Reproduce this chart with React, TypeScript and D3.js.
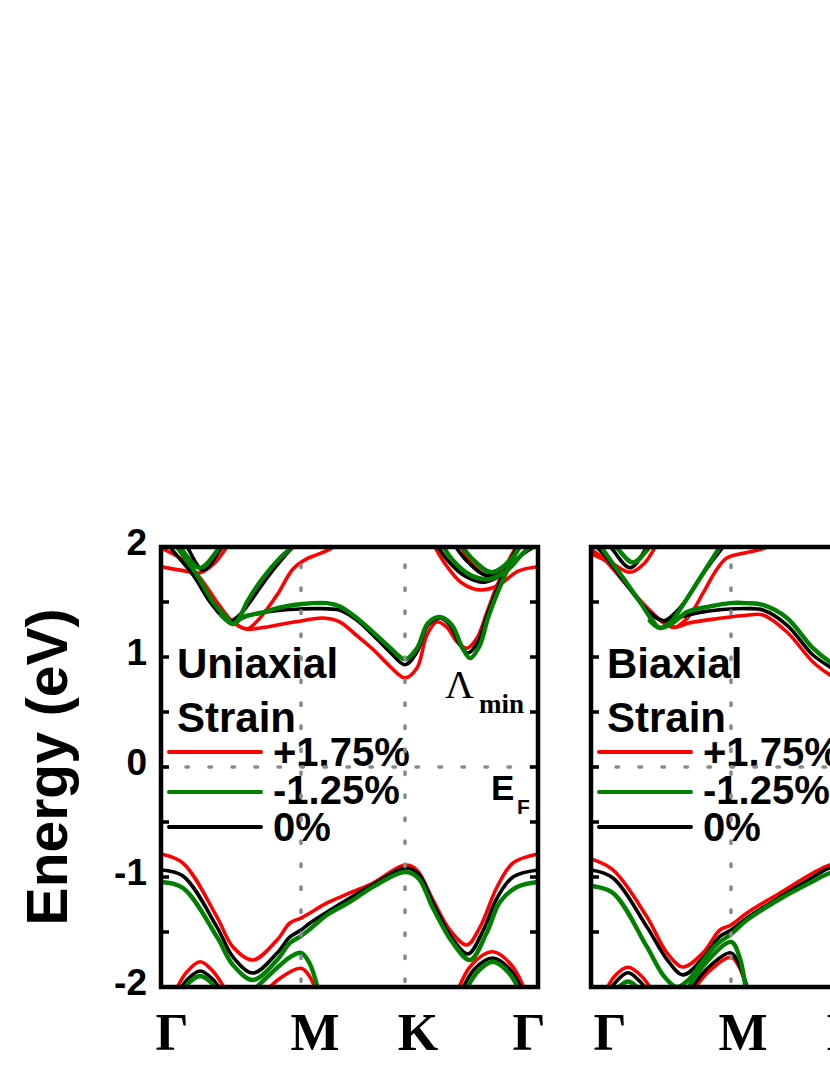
import React from "react";
import * as d3 from "d3";

type Pt = [number, number];

// ---------- axis data ----------
const kPoints = [0, 1, 2, 3]; // Γ, M, K, Γ (path segments)
const kLabels = ["Γ", "M", "K", "Γ"];
const yTicksMajor = [-2, -1, 0, 1, 2];
const yTicksMinor = [-2, -1.5, -1, -0.5, 0, 0.5, 1, 1.5, 2];
const legendLabels = ["+1.75%", "-1.25%", "0%"];
const legendColors = ["#ff0000", "#008000", "#000000"];

// ---------- Uniaxial strain panel ----------
const uniRedVB1: Pt[] = [[0,-0.79],[0.157,-0.873],[0.4,-1.364],[0.514,-1.636],[0.657,-1.755],[0.829,-1.573],[0.921,-1.418],[1.0,-1.373],[1.087,-1.327],[1.25,-1.236],[1.471,-1.145],[1.692,-1.055],[2.0,-0.891],[2.09,-0.936],[2.21,-1.209],[2.338,-1.482],[2.466,-1.618],[2.564,-1.455],[2.692,-1.091],[2.812,-0.873],[3.0,-0.791]];
const uniBlackVB1: Pt[] = [[0,-0.936],[0.157,-0.991],[0.4,-1.455],[0.514,-1.727],[0.657,-1.873],[0.829,-1.691],[0.921,-1.545],[1.0,-1.482],[1.087,-1.418],[1.25,-1.318],[1.471,-1.191],[1.692,-1.07],[2.0,-0.918],[2.1,-0.97],[2.21,-1.236],[2.35,-1.55],[2.474,-1.70],[2.586,-1.49],[2.692,-1.191],[2.812,-1.0],[3.0,-0.936]];
const uniGreenVB1: Pt[] = [[0,-1.045],[0.157,-1.1],[0.4,-1.545],[0.514,-1.8],[0.657,-1.936],[0.829,-1.755],[0.921,-1.6],[1.0,-1.536],[1.087,-1.473],[1.25,-1.345],[1.471,-1.227],[1.692,-1.09],[2.0,-0.955],[2.1,-1.01],[2.21,-1.282],[2.36,-1.6],[2.489,-1.755],[2.617,-1.5],[2.714,-1.227],[2.842,-1.091],[3.0,-1.045]];
const uniRedVB2a: Pt[] = [[0.08,-2.1],[0.18,-1.87],[0.28,-1.77],[0.38,-1.87],[0.49,-2.1]];
const uniBlackVB2a: Pt[] = [[0.1,-2.1],[0.19,-1.93],[0.28,-1.855],[0.37,-1.93],[0.46,-2.1]];
const uniGreenVB2a: Pt[] = [[0.12,-2.1],[0.2,-1.96],[0.28,-1.9],[0.36,-1.96],[0.44,-2.1]];
const uniRedVB2b: Pt[] = [[0.72,-2.08],[0.85,-1.92],[1.0,-1.83],[1.08,-1.9],[1.16,-2.08]];
const uniGreenVB2b: Pt[] = [[0.62,-2.08],[0.8,-1.86],[0.92,-1.73],[1.0,-1.69],[1.08,-1.78],[1.18,-2.08]];
const uniRedVB2c: Pt[] = [[2.38,-2.08],[2.5,-1.8],[2.66,-1.68],[2.8,-1.8],[2.92,-2.08]];
const uniBlackVB2c: Pt[] = [[2.41,-2.08],[2.52,-1.84],[2.66,-1.736],[2.79,-1.84],[2.9,-2.08]];
const uniGreenVB2c: Pt[] = [[2.44,-2.08],[2.54,-1.87],[2.66,-1.77],[2.78,-1.87],[2.88,-2.08]];

const uniRedCB1: Pt[] = [[0,1.99],[0.157,1.88],[0.279,1.72],[0.4,1.5],[0.514,1.32],[0.614,1.255],[0.743,1.27],[0.871,1.3],[1.0,1.327],[1.212,1.355],[1.375,1.318],[1.53,1.2],[1.692,1.07],[1.85,0.92],[2.0,0.81],[2.09,0.9],[2.165,1.2],[2.24,1.32],[2.316,1.27],[2.39,1.14],[2.466,1.08],[2.54,1.17],[2.617,1.41],[2.692,1.65],[2.78,1.88],[2.86,2.05]];
const uniBlackCB1: Pt[] = [[0,2.12],[0.064,2.0],[0.229,1.745],[0.35,1.5],[0.443,1.364],[0.493,1.327],[0.55,1.34],[0.636,1.38],[0.871,1.427],[0.993,1.436],[1.15,1.44],[1.375,1.425],[1.53,1.34],[1.692,1.2],[1.856,1.045],[2.0,0.93],[2.09,1.045],[2.173,1.29],[2.263,1.355],[2.338,1.29],[2.414,1.11],[2.474,1.036],[2.549,1.14],[2.617,1.38],[2.714,1.68],[2.812,1.93],[2.87,2.05]];
const uniGreenCB1: Pt[] = [[0,2.2],[0.114,2.0],[0.257,1.745],[0.371,1.5],[0.471,1.355],[0.514,1.3],[0.586,1.364],[0.707,1.4],[0.871,1.455],[0.993,1.48],[1.25,1.49],[1.375,1.46],[1.53,1.36],[1.692,1.227],[1.85,1.09],[2.0,0.98],[2.09,1.08],[2.173,1.31],[2.263,1.364],[2.353,1.29],[2.429,1.09],[2.489,0.99],[2.564,1.11],[2.624,1.355],[2.729,1.68],[2.827,1.93],[2.88,2.05]];
const uniRedCBU: Pt[] = [[0.514,1.32],[0.614,1.255],[0.707,1.355],[0.829,1.564],[0.943,1.8],[1.05,1.89],[1.154,1.93],[1.298,1.99],[1.4,2.05]];
const uniBlackCBU: Pt[] = [[0.4,1.42],[0.493,1.327],[0.56,1.38],[0.636,1.5],[0.757,1.72],[0.871,1.9],[0.943,2.0],[1.0,2.08]];
const uniGreenCBU: Pt[] = [[0.43,1.38],[0.514,1.3],[0.56,1.36],[0.614,1.5],[0.729,1.72],[0.85,1.9],[0.936,2.0],[1.0,2.1]];
const uniRedCBS: Pt[] = [[0,1.82],[0.14,1.79],[0.279,1.765],[0.38,1.85],[0.471,2.0],[0.53,2.1]];
const uniBlackCBS: Pt[] = [[0.1,2.15],[0.186,2.0],[0.3,1.79],[0.436,2.0],[0.5,2.12]];
const uniGreenCBS: Pt[] = [[0.05,2.15],[0.136,2.0],[0.279,1.81],[0.421,2.0],[0.5,2.12]];
const uniRedCBR1: Pt[] = [[2.18,2.1],[2.3,1.85],[2.42,1.68],[2.56,1.61],[2.7,1.65],[2.85,1.78],[3.0,1.82]];
const uniRedCBR2: Pt[] = [[2.38,2.1],[2.5,1.85],[2.62,1.74],[2.74,1.8],[2.86,2.0],[2.92,2.1]];
const uniBlackCBR1: Pt[] = [[2.2,2.1],[2.32,1.88],[2.46,1.73],[2.6,1.68],[2.74,1.76],[2.88,1.93],[3.0,2.02]];
const uniBlackCBR2: Pt[] = [[2.33,2.1],[2.46,1.88],[2.62,1.74],[2.76,1.84],[2.88,2.05]];
const uniGreenCBR1: Pt[] = [[2.24,2.1],[2.36,1.88],[2.5,1.74],[2.64,1.71],[2.78,1.8],[2.9,1.96],[3.0,2.04]];
const uniGreenCBR2: Pt[] = [[2.38,2.1],[2.5,1.9],[2.65,1.77],[2.79,1.88],[2.9,2.08]];

// ---------- Biaxial strain panel ----------
const biRedVB1: Pt[] = [[0,-0.836],[0.157,-0.936],[0.4,-1.364],[0.543,-1.69],[0.657,-1.818],[0.8,-1.69],[0.921,-1.482],[1.0,-1.436],[1.154,-1.327],[1.471,-1.145],[1.788,-0.964],[1.952,-0.89],[2.1,-0.87]];
const biBlackVB1: Pt[] = [[0,-0.936],[0.157,-1.009],[0.4,-1.455],[0.543,-1.75],[0.657,-1.89],[0.8,-1.736],[0.921,-1.54],[1.0,-1.482],[1.154,-1.373],[1.471,-1.182],[1.788,-1.0],[1.952,-0.918],[2.1,-0.9]];
const biGreenVB1: Pt[] = [[0,-1.082],[0.157,-1.145],[0.4,-1.636],[0.52,-1.9],[0.614,-2.0],[0.7,-1.93],[0.8,-1.76],[0.9,-1.61],[1.0,-1.52],[1.154,-1.39],[1.471,-1.2],[1.788,-1.04],[1.952,-0.964],[2.1,-0.94]];
const biRedVB2a: Pt[] = [[0.08,-2.1],[0.17,-1.9],[0.264,-1.82],[0.36,-1.9],[0.47,-2.1]];
const biBlackVB2a: Pt[] = [[0.1,-2.1],[0.18,-1.95],[0.264,-1.87],[0.35,-1.95],[0.44,-2.1]];
const biGreenVB2a: Pt[] = [[0.14,-2.1],[0.2,-2.0],[0.264,-1.95],[0.33,-2.0],[0.4,-2.1]];
const biRedVB2b: Pt[] = [[0.7,-2.08],[0.85,-1.85],[1.0,-1.73],[1.08,-1.82],[1.17,-2.08]];
const biBlackVB2b: Pt[] = [[0.68,-2.08],[0.84,-1.82],[1.0,-1.69],[1.08,-1.8],[1.18,-2.08]];
const biGreenVB2b: Pt[] = [[0.66,-2.08],[0.82,-1.78],[1.0,-1.59],[1.08,-1.72],[1.15,-2.08]];

const biRedCB1: Pt[] = [[0,1.98],[0.1,1.88],[0.25,1.66],[0.4,1.45],[0.52,1.31],[0.6,1.27],[0.7,1.31],[0.85,1.34],[0.993,1.364],[1.15,1.38],[1.308,1.382],[1.538,1.227],[1.788,0.955],[1.952,0.836],[2.0,0.81],[2.1,0.9]];
const biBlackCB1: Pt[] = [[0,2.05],[0.1,1.92],[0.229,1.7],[0.35,1.5],[0.45,1.37],[0.52,1.33],[0.636,1.364],[0.8,1.41],[0.993,1.436],[1.15,1.44],[1.308,1.427],[1.538,1.29],[1.788,1.018],[1.952,0.91],[2.0,0.88],[2.1,0.97]];
const biGreenCB1: Pt[] = [[0,2.15],[0.1,1.95],[0.229,1.72],[0.35,1.5],[0.44,1.33],[0.493,1.264],[0.586,1.31],[0.686,1.41],[0.85,1.46],[0.993,1.49],[1.15,1.49],[1.308,1.473],[1.538,1.355],[1.788,1.08],[1.952,0.955],[2.0,0.93],[2.1,1.02]];
const biRedCBU: Pt[] = [[0.52,1.31],[0.6,1.27],[0.7,1.37],[0.8,1.58],[0.9,1.8],[0.97,1.9],[1.1,1.94],[1.25,1.97],[1.35,2.0],[1.45,2.05]];
const biBlackCBU: Pt[] = [[0.42,1.4],[0.52,1.33],[0.6,1.4],[0.68,1.52],[0.77,1.7],[0.87,1.88],[0.943,2.0],[1.0,2.1]];
const biGreenCBU: Pt[] = [[0.42,1.33],[0.493,1.264],[0.57,1.32],[0.66,1.48],[0.77,1.7],[0.86,1.88],[0.921,2.0],[0.98,2.1]];
const biRedCBS: Pt[] = [[0,1.94],[0.15,1.85],[0.28,1.77],[0.38,1.85],[0.47,2.02],[0.52,2.1]];
const biBlackCBS: Pt[] = [[0.05,2.12],[0.14,2.0],[0.28,1.81],[0.4,2.0],[0.47,2.12]];
const biGreenCBS: Pt[] = [[0.1,2.12],[0.18,2.0],[0.3,1.86],[0.42,2.0],[0.5,2.12]];

const uniBands = {
  red: [uniRedVB1, uniRedVB2a, uniRedVB2b, uniRedVB2c, uniRedCB1, uniRedCBU, uniRedCBS, uniRedCBR1, uniRedCBR2],
  black: [uniBlackVB1, uniBlackVB2a, uniBlackVB2c, uniBlackCB1, uniBlackCBU, uniBlackCBS, uniBlackCBR1, uniBlackCBR2],
  green: [uniGreenVB1, uniGreenVB2a, uniGreenVB2b, uniGreenVB2c, uniGreenCB1, uniGreenCBU, uniGreenCBS, uniGreenCBR1, uniGreenCBR2],
};
const biBands = {
  red: [biRedVB1, biRedVB2a, biRedVB2b, biRedCB1, biRedCBU, biRedCBS],
  black: [biBlackVB1, biBlackVB2a, biBlackVB2b, biBlackCB1, biBlackCBU, biBlackCBS],
  green: [biGreenVB1, biGreenVB2a, biGreenVB2b, biGreenCB1, biGreenCBU, biGreenCBS],
};

// ---------- layout ----------
const TOP = 547;
const BOTTOM = 987;
const PANEL_W = 377;
const SEG = [0, 140, 244, 377];
const SANS = "'Liberation Sans', Arial, sans-serif";
const SERIF = "'Liberation Serif', 'Times New Roman', serif";
const GRAY = "#8a8a8a";

const y = d3.scaleLinear().domain([-2, 2]).range([BOTTOM, TOP]);

type Bands = { red: Pt[][]; black: Pt[][]; green: Pt[][] };

function Panel(props: {
  id: string;
  left: number;
  title: string;
  bands: Bands;
  labelDx: number[];
  extras?: boolean;
}) {
  const { id, left, title, bands, labelDx, extras } = props;
  const x = d3.scaleLinear().domain(kPoints).range(SEG.map((s) => left + s));
  const line = d3
    .line<Pt>()
    .x((d) => x(d[0]))
    .y((d) => y(d[1]))
    .curve(d3.curveCatmullRom.alpha(0.5));
  const right = left + PANEL_W;
  const order: [keyof Bands, string, number][] = [
    ["red", "#ff0000", 3.6],
    ["black", "#000000", 3.6],
    ["green", "#008000", 4.4],
  ];
  const legendY = [752, 792, 827];
  const legendBase = [766, 804, 841];
  return (
    <g>
      <defs>
        <clipPath id={id}>
          <rect x={left} y={TOP} width={PANEL_W} height={BOTTOM - TOP} />
        </clipPath>
      </defs>
      {/* legend texts */}
      <text x={left + 16} y={678} fontFamily={SANS} fontWeight="bold" fontSize={42}>{title}</text>
      <text x={left + 16} y={732} fontFamily={SANS} fontWeight="bold" fontSize={42}>Strain</text>
      {legendLabels.map((lab, i) => (
        <g key={lab}>
          <line x1={left + 8} x2={left + 100} y1={legendY[i]} y2={legendY[i]} stroke={legendColors[i]} strokeWidth={4} strokeLinecap="round" />
          <text x={left + 112} y={legendBase[i]} fontFamily={SANS} fontWeight="bold" fontSize={40}>{lab}</text>
        </g>
      ))}
      {extras && (
        <g>
          <text x={445} y={698} fontFamily={SERIF} fontSize={40}>Λ</text>
          <text x={479} y={713} fontFamily={SERIF} fontWeight="bold" fontSize={27}>min</text>
          <text x={491} y={800} fontFamily={SANS} fontWeight="bold" fontSize={35}>E</text>
          <text x={517} y={814} fontFamily={SANS} fontWeight="bold" fontSize={21}>F</text>
        </g>
      )}
      {/* bands */}
      <g clipPath={`url(#${id})`} fill="none" strokeLinecap="round" strokeLinejoin="round">
        {order.map(([key, color, w]) =>
          bands[key].map((b, i) => (
            <path key={key + i} d={line(b) || ""} stroke={color} strokeWidth={w} />
          ))
        )}
      </g>
      {/* dotted reference lines */}
      <g stroke={GRAY} strokeWidth={3.6} strokeLinecap="round" strokeDasharray="2.5 20.5">
        {[1, 2].map((k) => (
          <line key={k} x1={x(k)} x2={x(k)} y1={TOP + 18} y2={BOTTOM} />
        ))}
        <line x1={left + 2} x2={right} y1={y(0)} y2={y(0)} />
      </g>
      {/* ticks */}
      <g stroke="#000" strokeWidth={3.5}>
        {yTicksMinor.map((t) => (
          <g key={t}>
            <line x1={left} x2={left + 8} y1={y(t)} y2={y(t)} />
            <line x1={right - 8} x2={right} y1={y(t)} y2={y(t)} />
          </g>
        ))}
      </g>
      {/* frame */}
      <rect x={left} y={TOP} width={PANEL_W} height={BOTTOM - TOP} fill="none" stroke="#000" strokeWidth={4.5} />
      {/* k-point labels */}
      {kLabels.map((lab, i) => (
        <text
          key={i}
          x={x(kPoints[i]) + labelDx[i]}
          y={1050}
          textAnchor="middle"
          fontFamily={SERIF}
          fontWeight="bold"
          fontSize={52}
        >
          {lab}
        </text>
      ))}
    </g>
  );
}

export default function App() {
  return (
    <svg
      width={830}
      height={1075}
      viewBox="0 0 830 1075"
      style={{ position: "absolute", left: 0, top: 0, background: "#fff" }}
    >
      <rect x={0} y={0} width={830} height={1075} fill="#fff" />
      <text
        transform={`translate(67, 767) rotate(-90)`}
        textAnchor="middle"
        fontFamily={SANS}
        fontWeight="bold"
        fontSize={57}
      >
        Energy (eV)
      </text>
      {yTicksMajor.map((t) => (
        <text key={t} x={147} y={y(t) + 8} textAnchor="end" fontFamily={SANS} fontWeight="bold" fontSize={37}>
          {t}
        </text>
      ))}
      <Panel id="clipUni" left={161} title="Uniaxial" bands={uniBands} labelDx={[11, 14, 13, -9]} extras />
      <Panel id="clipBi" left={591} title="Biaxial" bands={biBands} labelDx={[19, 12, 12, -9]} />
    </svg>
  );
}
